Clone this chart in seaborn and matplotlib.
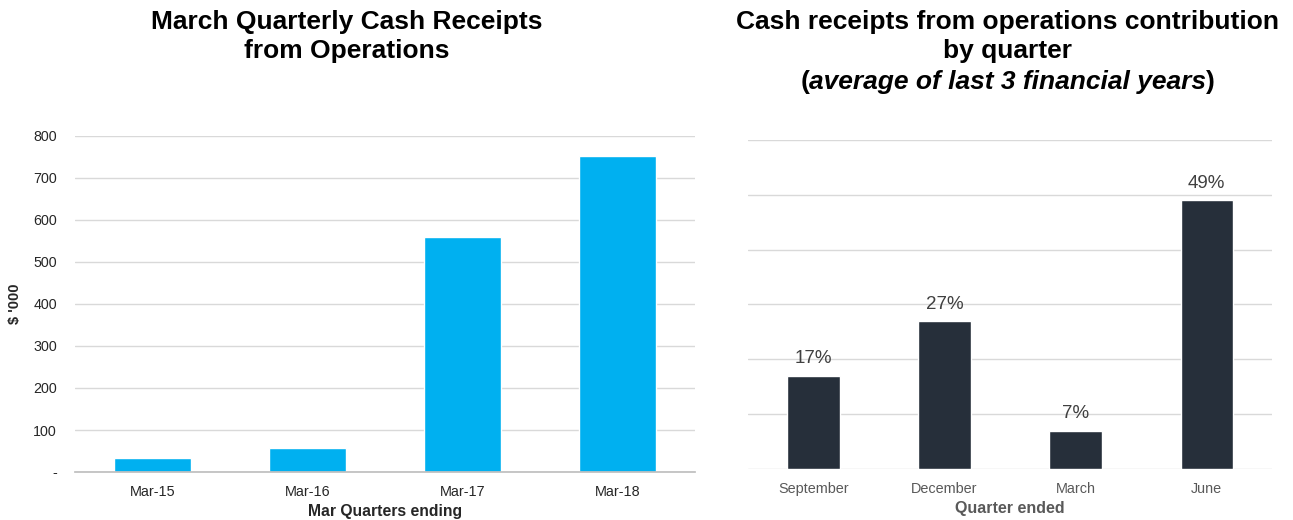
import matplotlib
matplotlib.use("Agg")
import matplotlib.pyplot as plt
import seaborn as sns
import pandas as pd
import numpy as np

# Data
left_categories = ["Mar-15", "Mar-16", "Mar-17", "Mar-18"]
left_values = [33, 57, 560, 752]
left_yticks = [0, 100, 200, 300, 400, 500, 600, 700, 800]
left_yticklabels = ["-", "100", "200", "300", "400", "500", "600", "700", "800"]

right_categories = ["September", "December", "March", "June"]
right_values = [17, 27, 7, 49]
right_labels = ["17%", "27%", "7%", "49%"]

sns.set_theme(style="white")
plt.rcParams['font.family'] = ['Liberation Sans', 'DejaVu Sans']

fig = plt.figure(figsize=(12.93, 5.2), dpi=100)
ax1 = fig.add_axes([0.058, 0.0923, 0.4795, 0.6462])
ax2 = fig.add_axes([0.5785, 0.098, 0.4055, 0.633])

dfl = pd.DataFrame({"cat": left_categories, "val": left_values})
sns.barplot(data=dfl, x="cat", y="val", ax=ax1, color="#00B0F0", width=0.5, saturation=1)
ax1.set_ylim(0, 800)
ax1.set_xlim(-0.5, 3.5)
ax1.set_yticks(left_yticks)
ax1.set_yticklabels(left_yticklabels)
ax1.yaxis.grid(True, color="#D9D9D9", linewidth=1)
ax1.set_axisbelow(True)
for s in ["top", "right", "left"]:
    ax1.spines[s].set_visible(False)
ax1.spines["bottom"].set_color("#BFBFBF")
ax1.tick_params(axis="y", length=0, labelsize=10.3, pad=13, labelcolor="#262626")
ax1.tick_params(axis="x", which="major", length=0, labelsize=10.4, pad=9, labelcolor="#262626")
ax1.set_xticks(np.arange(-0.5, 4, 1), minor=True)
ax1.tick_params(axis="x", which="minor", length=5, color="#BFBFBF", width=1)
ax1.set_xlabel("Mar Quarters ending", fontsize=11.3, fontweight="bold", labelpad=4, color="#262626")
ax1.set_ylabel("$ '000", fontsize=10.5, fontweight="bold", labelpad=8, color="#262626")

dfr = pd.DataFrame({"cat": right_categories, "val": right_values})
sns.barplot(data=dfr, x="cat", y="val", ax=ax2, color="#262F3A", width=0.4, saturation=1)
ax2.set_ylim(0, 60)
ax2.set_xlim(-0.5, 3.5)
ax2.set_yticks(np.arange(0, 61, 10))
ax2.set_yticklabels([])
ax2.yaxis.grid(True, color="#D9D9D9", linewidth=1)
ax2.set_axisbelow(True)
for s in ["top", "right", "left", "bottom"]:
    ax2.spines[s].set_visible(False)
ax2.tick_params(axis="y", length=0)
ax2.tick_params(axis="x", length=0, labelsize=10.4, pad=9, labelcolor="#595959")
ax2.set_xlabel("Quarter ended", fontsize=11.5, fontweight="bold", labelpad=4, color="#595959")
ax2.set_ylabel("")
for container in ax2.containers:
    ax2.bar_label(container, labels=right_labels, padding=6, fontsize=13.5, color="#404040")

# Titles
tsize = 19
fig.text(0.2685, 0.958, "March Quarterly Cash Receipts", ha="center", va="center",
         fontsize=tsize, fontweight="bold", color="black")
fig.text(0.2685, 0.901, "from Operations", ha="center", va="center",
         fontsize=tsize, fontweight="bold", color="black")

cx = 0.7795
fig.text(cx, 0.958, "Cash receipts from operations contribution", ha="center", va="center",
         fontsize=tsize, fontweight="bold", color="black")
fig.text(cx, 0.901, "by quarter", ha="center", va="center",
         fontsize=tsize, fontweight="bold", color="black")

# Mixed-style third line
y3 = 0.843
parts = [("(", "normal"), ("average of last 3 financial years", "italic"), (")", "normal")]
texts = []
for s, st in parts:
    t = fig.text(0, y3, s, ha="left", va="center", fontsize=tsize, fontweight="bold",
                 fontstyle=st, color="black")
    texts.append(t)
fig.canvas.draw()
r = fig.canvas.get_renderer()
widths = [t.get_window_extent(renderer=r).width / fig.bbox.width for t in texts]
total = sum(widths)
x = cx - total / 2
for t, w in zip(texts, widths):
    t.set_x(x)
    x += w

fig.savefig("out.png", dpi=100)
